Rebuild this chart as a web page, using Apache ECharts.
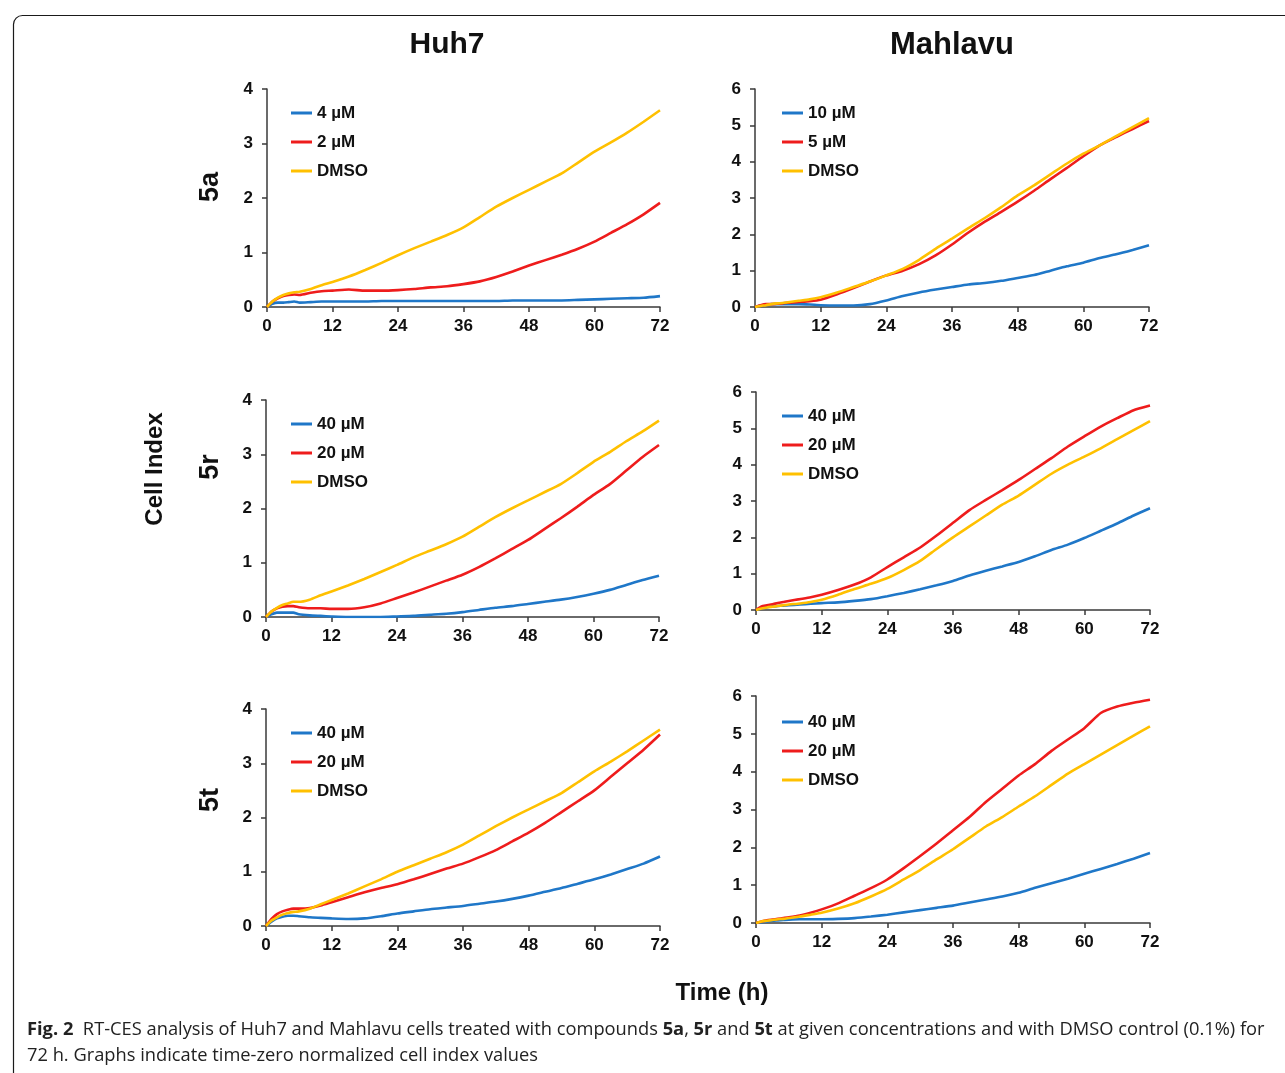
<!DOCTYPE html>
<html>
<head>
<meta charset="utf-8">
<script src="https://cdn.jsdelivr.net/npm/echarts@6/dist/echarts.min.js"></script>
<style>
  html, body { margin: 0; padding: 0; background: #fff; }
  #main { width: 1285px; height: 1073px; }
</style>
</head>
<body>
<div id="main"></div>
<script>
// sampling times (h)
const hours = [0, 1, 2, 3, 4, 5, 6, 8, 10, 12, 15, 18, 21, 24, 27, 30, 33, 36, 39, 42, 45, 48, 51, 54, 57, 60, 63, 66, 69, 72];

// Huh7 - 5a
const huh7_5a_4uM  = [0, 0.06, 0.08, 0.08, 0.09, 0.1, 0.08, 0.09, 0.1, 0.1, 0.1, 0.1, 0.11, 0.11, 0.11, 0.11, 0.11, 0.11, 0.11, 0.11, 0.12, 0.12, 0.12, 0.12, 0.13, 0.14, 0.15, 0.16, 0.17, 0.2];
const huh7_5a_2uM  = [0, 0.1, 0.16, 0.2, 0.22, 0.23, 0.22, 0.26, 0.29, 0.3, 0.32, 0.3, 0.3, 0.31, 0.33, 0.36, 0.38, 0.42, 0.47, 0.55, 0.65, 0.76, 0.86, 0.96, 1.07, 1.2, 1.36, 1.52, 1.7, 1.91];
const huh7_5a_dmso = [0, 0.1, 0.17, 0.22, 0.25, 0.27, 0.28, 0.33, 0.4, 0.46, 0.56, 0.68, 0.81, 0.95, 1.08, 1.2, 1.32, 1.46, 1.65, 1.84, 2.0, 2.15, 2.3, 2.45, 2.65, 2.85, 3.02, 3.2, 3.4, 3.61];

// Mahlavu - 5a
const mah_5a_10uM = [0, 0.04, 0.06, 0.08, 0.08, 0.08, 0.08, 0.08, 0.07, 0.05, 0.04, 0.04, 0.08, 0.18, 0.3, 0.4, 0.48, 0.55, 0.62, 0.66, 0.72, 0.8, 0.88, 1.0, 1.12, 1.22, 1.35, 1.45, 1.57, 1.7];
const mah_5a_5uM  = [0, 0.05, 0.08, 0.08, 0.09, 0.1, 0.12, 0.14, 0.16, 0.2, 0.35, 0.52, 0.7, 0.87, 1.0, 1.18, 1.42, 1.72, 2.05, 2.35, 2.62, 2.9, 3.2, 3.52, 3.83, 4.15, 4.45, 4.68, 4.9, 5.12];
const mah_5a_dmso = [0, 0.03, 0.05, 0.08, 0.1, 0.11, 0.13, 0.17, 0.21, 0.27, 0.4, 0.55, 0.7, 0.87, 1.05, 1.3, 1.6, 1.88, 2.17, 2.45, 2.75, 3.07, 3.35, 3.65, 3.95, 4.22, 4.45, 4.7, 4.95, 5.2];

// Huh7 - 5r
const huh7_5r_40uM = [0, 0.05, 0.08, 0.08, 0.08, 0.08, 0.05, 0.03, 0.02, 0.01, 0, 0, 0, 0.01, 0.02, 0.04, 0.06, 0.09, 0.13, 0.17, 0.2, 0.24, 0.28, 0.32, 0.37, 0.43, 0.5, 0.59, 0.68, 0.76];
const huh7_5r_20uM = [0, 0.1, 0.16, 0.19, 0.2, 0.2, 0.18, 0.16, 0.16, 0.15, 0.15, 0.18, 0.25, 0.35, 0.45, 0.56, 0.67, 0.78, 0.92, 1.08, 1.25, 1.42, 1.62, 1.82, 2.03, 2.25, 2.45, 2.7, 2.95, 3.17];
const huh7_5r_dmso = [0, 0.1, 0.17, 0.22, 0.25, 0.28, 0.28, 0.32, 0.4, 0.47, 0.58, 0.7, 0.83, 0.96, 1.1, 1.22, 1.34, 1.48, 1.66, 1.84, 2.0, 2.15, 2.3, 2.45, 2.65, 2.86, 3.04, 3.24, 3.42, 3.62];

// Mahlavu - 5r
const mah_5r_40uM = [0, 0.05, 0.08, 0.1, 0.11, 0.12, 0.13, 0.15, 0.17, 0.19, 0.21, 0.25, 0.3, 0.38, 0.47, 0.57, 0.68, 0.8, 0.95, 1.08, 1.2, 1.32, 1.48, 1.65, 1.8, 1.98, 2.18, 2.38, 2.6, 2.8];
const mah_5r_20uM = [0, 0.1, 0.13, 0.16, 0.19, 0.22, 0.25, 0.3, 0.35, 0.42, 0.55, 0.7, 0.9, 1.18, 1.45, 1.72, 2.05, 2.4, 2.75, 3.03, 3.3, 3.58, 3.88, 4.18, 4.5, 4.78, 5.05, 5.28, 5.5, 5.63];
const mah_5r_dmso = [0, 0.04, 0.07, 0.09, 0.11, 0.13, 0.15, 0.18, 0.22, 0.28, 0.42, 0.58, 0.72, 0.88, 1.1, 1.35, 1.68, 2.0, 2.3, 2.6, 2.9, 3.15, 3.45, 3.75, 4.0, 4.22, 4.45, 4.7, 4.95, 5.2];

// Huh7 - 5t
const huh7_5t_40uM = [0, 0.08, 0.14, 0.17, 0.19, 0.19, 0.18, 0.16, 0.15, 0.14, 0.13, 0.14, 0.18, 0.23, 0.27, 0.31, 0.34, 0.37, 0.41, 0.45, 0.5, 0.56, 0.63, 0.7, 0.78, 0.86, 0.95, 1.05, 1.15, 1.28];
const huh7_5t_20uM = [0, 0.13, 0.22, 0.27, 0.3, 0.32, 0.32, 0.33, 0.38, 0.44, 0.53, 0.62, 0.7, 0.77, 0.86, 0.96, 1.06, 1.15, 1.27, 1.4, 1.56, 1.72, 1.9, 2.1, 2.3, 2.5, 2.75, 3.0, 3.25, 3.53];
const huh7_5t_dmso = [0, 0.1, 0.16, 0.21, 0.24, 0.26, 0.27, 0.32, 0.4, 0.48, 0.6, 0.73, 0.86, 1.0, 1.12, 1.24, 1.36, 1.5, 1.67, 1.84, 2.0, 2.15, 2.3, 2.45, 2.65, 2.85, 3.03, 3.22, 3.42, 3.62];

// Mahlavu - 5t
const mah_5t_40uM = [0, 0.02, 0.04, 0.06, 0.07, 0.08, 0.09, 0.1, 0.1, 0.1, 0.11, 0.13, 0.17, 0.22, 0.28, 0.34, 0.4, 0.46, 0.54, 0.62, 0.7, 0.8, 0.93, 1.05, 1.17, 1.3, 1.43, 1.56, 1.7, 1.85];
const mah_5t_20uM = [0, 0.04, 0.07, 0.09, 0.11, 0.13, 0.15, 0.2, 0.27, 0.36, 0.52, 0.72, 0.92, 1.15, 1.45, 1.77, 2.1, 2.45, 2.8, 3.2, 3.55, 3.9, 4.2, 4.55, 4.85, 5.15, 5.55, 5.72, 5.82, 5.9];
const mah_5t_dmso = [0, 0.04, 0.06, 0.08, 0.1, 0.11, 0.13, 0.17, 0.22, 0.27, 0.38, 0.52, 0.7, 0.9, 1.15, 1.4, 1.68, 1.95, 2.25, 2.55, 2.8, 3.08, 3.35, 3.65, 3.95, 4.2, 4.45, 4.7, 4.95, 5.2];

const colors = ["#1f77c8", "#ee1c1c", "#ffc000"]; // blue, red, yellow
const font = "Liberation Sans, Arial, sans-serif";

const panels = [
  { grid: { left: 267, top: 89, width: 393, height: 218 }, yMax: 4, leg: [291, 102], names: ["4 µM", "2 µM", "DMSO"], vals: [huh7_5a_4uM, huh7_5a_2uM, huh7_5a_dmso] },
  { grid: { left: 755, top: 89, width: 394, height: 218 }, yMax: 6, leg: [782, 102], names: ["10 µM", "5 µM", "DMSO"], vals: [mah_5a_10uM, mah_5a_5uM, mah_5a_dmso] },
  { grid: { left: 266, top: 400, width: 393, height: 217 }, yMax: 4, leg: [291, 413], names: ["40 µM", "20 µM", "DMSO"], vals: [huh7_5r_40uM, huh7_5r_20uM, huh7_5r_dmso] },
  { grid: { left: 756, top: 392, width: 394, height: 218 }, yMax: 6, leg: [782, 405], names: ["40 µM", "20 µM", "DMSO"], vals: [mah_5r_40uM, mah_5r_20uM, mah_5r_dmso] },
  { grid: { left: 266, top: 709, width: 394, height: 217 }, yMax: 4, leg: [291, 722], names: ["40 µM", "20 µM", "DMSO"], vals: [huh7_5t_40uM, huh7_5t_20uM, huh7_5t_dmso] },
  { grid: { left: 756, top: 696, width: 394, height: 227 }, yMax: 6, leg: [782, 711], names: ["40 µM", "20 µM", "DMSO"], vals: [mah_5t_40uM, mah_5t_20uM, mah_5t_dmso] },
];

function pts(vals) {
  return hours.map(function (h, i) { return [h, vals[i]]; });
}

const axisLine = { show: true, lineStyle: { color: "#3a3a3a", width: 1.5 } };
const labelStyle = { color: "#111", fontSize: 17, fontWeight: "bold", fontFamily: font };

let grids = [], xAxes = [], yAxes = [], series = [], legends = [];
panels.forEach(function (p, gi) {
  grids.push(Object.assign({ containLabel: false }, p.grid));
  xAxes.push({
    type: "value", gridIndex: gi, min: 0, max: 72, interval: 12,
    axisLine: axisLine, axisTick: { show: true, length: 5, lineStyle: { color: "#3a3a3a", width: 1.5 } },
    splitLine: { show: false },
    axisLabel: Object.assign({ margin: 11 }, labelStyle),
  });
  yAxes.push({
    type: "value", gridIndex: gi, min: 0, max: p.yMax, interval: 1,
    axisLine: axisLine, axisTick: { show: true, length: 5, lineStyle: { color: "#3a3a3a", width: 1.5 } },
    splitLine: { show: false },
    axisLabel: Object.assign({ margin: 14 }, labelStyle),
  });
  p.names.forEach(function (name, k) {
    series.push({
      name: name, type: "line", xAxisIndex: gi, yAxisIndex: gi,
      data: pts(p.vals[k]), showSymbol: false, symbol: "none", smooth: 0.2,
      lineStyle: { color: colors[k], width: 2.6 }, itemStyle: { color: colors[k] },
      animation: false,
    });
  });
  legends.push({
    orient: "vertical", left: p.leg[0], top: p.leg[1], padding: 0,
    data: p.names, icon: "rect", itemWidth: 21, itemHeight: 3, itemGap: 7,
    textStyle: { color: "#111", fontSize: 17, fontWeight: "bold", fontFamily: font, lineHeight: 22 },
    selectedMode: false,
  });
});

// heading / side texts
const texts = [
  { text: "Huh7", x: 447, y: 45, size: 30, rot: 0 },
  { text: "Mahlavu", x: 952, y: 45, size: 31, rot: 0 },
  { text: "5a", x: 211, y: 187, size: 27, rot: Math.PI / 2 },
  { text: "5r", x: 211, y: 467, size: 27, rot: Math.PI / 2 },
  { text: "5t", x: 211, y: 800, size: 27, rot: Math.PI / 2 },
  { text: "Cell Index", x: 155, y: 469, size: 24, rot: Math.PI / 2 },
  { text: "Time (h)", x: 722, y: 993, size: 24, rot: 0 },
];

let graphics = [{
  type: "rect", left: 11, top: 13, silent: true,
  shape: { width: 1320, height: 1120, r: 9 },
  style: { fill: "none", stroke: "#1a1a1a", lineWidth: 1.2 },
}];
texts.forEach(function (t) {
  graphics.push({
    type: "text", x: t.x, y: t.y, rotation: t.rot, silent: true,
    style: { text: t.text, fill: "#111", font: "bold " + t.size + "px " + font, textAlign: "center", textVerticalAlign: "middle" },
  });
});

const capFont = "Open Sans, Noto Sans, sans-serif";
graphics.push({
  type: "text", left: 27, top: 1017, silent: true,
  style: {
    text: "{b|Fig. 2}  RT-CES analysis of Huh7 and Mahlavu cells treated with compounds {b|5a}, {b|5r} and {b|5t} at given concentrations and with DMSO control (0.1%) for\n72 h. Graphs indicate time-zero normalized cell index values",
    fill: "#222", font: "18.3px " + capFont, lineHeight: 26,
    rich: { b: { fontWeight: "bold", fontSize: 18.3, fontFamily: capFont, fill: "#222" } },
  },
});

const myChart = echarts.init(document.getElementById("main"), null, { renderer: "canvas" });
myChart.setOption({
  backgroundColor: "#fff",
  animation: false,
  grid: grids,
  xAxis: xAxes,
  yAxis: yAxes,
  legend: legends,
  series: series,
  graphic: graphics,
});
</script>
</body>
</html>
